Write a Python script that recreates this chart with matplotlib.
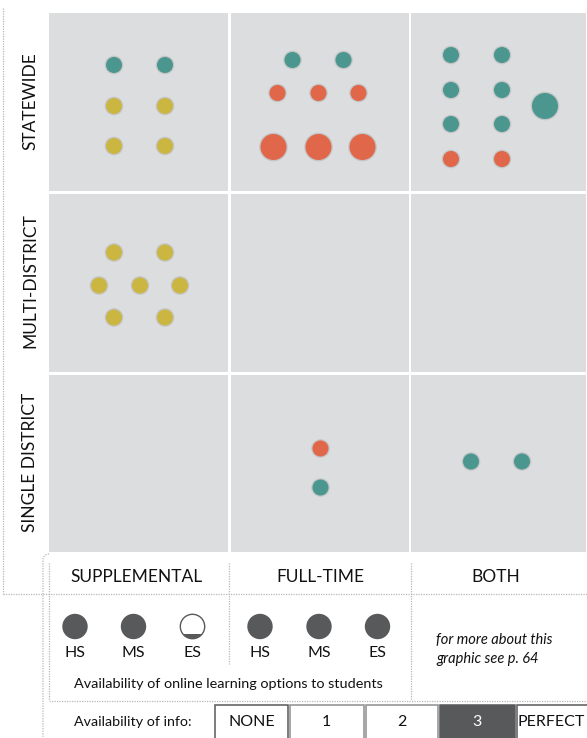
import numpy as np
import matplotlib.pyplot as plt
from matplotlib.patches import Circle, Rectangle

plt.rcParams["font.family"] = ["Lato", "DejaVu Sans"]

# Matrix categories
row_labels = ["STATEWIDE", "MULTI-DISTRICT", "SINGLE DISTRICT"]
col_labels = ["SUPPLEMENTAL", "FULL-TIME", "BOTH"]

# Dots: cell (row, col), offset inside the cell in px, colour key, big or not
dot_row = [0] * 6 + [0] * 8 + [0] * 9 + [1] * 7 + [2] * 2 + [2] * 2
dot_col = [0] * 6 + [1] * 8 + [2] * 9 + [0] * 7 + [1] * 2 + [2] * 2
dot_x = [65, 116, 65, 116, 65, 116,
         62, 113, 47, 88, 128, 43, 88, 132,
         40, 91, 40, 91, 40, 91, 40, 91, 134,
         65, 116, 50, 91, 131, 65, 116,
         90, 90,
         60, 111]
dot_y = [52, 52, 93, 93, 133, 133,
         47, 47, 80, 80, 80, 134, 134, 134,
         42, 42, 77, 77, 111, 111, 146, 146, 93,
         59, 59, 92, 92, 92, 124, 124,
         74, 113,
         87, 87]
dot_kind = ["t", "t", "y", "y", "y", "y",
            "t", "t", "o", "o", "o", "o", "o", "o",
            "t", "t", "t", "t", "t", "t", "o", "o", "t",
            "y", "y", "y", "y", "y", "y", "y",
            "o", "t",
            "t", "t"]
dot_big = [0] * 6 + [0] * 5 + [1] * 3 + [0] * 8 + [1] + [0] * 7 + [0] * 4

# Legend: availability of online learning options (1 = full, else filled share)
legend_groups = ["SUPPLEMENTAL", "FULL-TIME"]
legend_levels = ["HS", "MS", "ES"]
legend_fill = [[1, 1, 0.2], [1, 1, 1]]

info_labels = ["NONE", "1", "2", "3", "PERFECT"]
info_current = "3"

colours = {"t": "#4b978f", "o": "#e0674a", "y": "#ccb642"}
panel_grey = "#dcdddf"
dark = "#58595b"
dotted = "#b8b8b8"
ink = "#111111"

col_x0 = [49, 230.5, 411]
col_x1 = [229, 410, 587]
row_y0 = [13, 193.5, 374.5]
row_y1 = [192.5, 373.5, 553]

fig = plt.figure(figsize=(5.87, 7.38), dpi=100)
ax = fig.add_axes([0, 0, 1, 1])
ax.set_xlim(0, 587)
ax.set_ylim(738, 0)
ax.axis("off")

# grey matrix panels
for r in range(3):
    for c in range(3):
        ax.add_patch(Rectangle((col_x0[c], row_y0[r]),
                               col_x1[c] - col_x0[c] - 1.5,
                               row_y1[r] - row_y0[r] - 1.5,
                               facecolor=panel_grey, edgecolor="none"))

for r, c, x, y, k, big in zip(dot_row, dot_col, dot_x, dot_y, dot_kind, dot_big):
    cx, cy = col_x0[c] + x, row_y0[r] + y
    rad = 13 if big else 8
    ax.add_patch(Circle((cx, cy), rad + 1.3, facecolor="#9a9a9a",
                        edgecolor="none", alpha=0.35))
    ax.add_patch(Circle((cx, cy), rad, facecolor=colours[k], edgecolor="none"))

# row labels
row_centres = [101, 281, 462]
for lab, yc in zip(row_labels, row_centres):
    ax.text(30, yc, lab, rotation=90, ha="center", va="center",
            fontsize=12.5, color=ink)

dot_style = dict(color=dotted, lw=0.9, linestyle=(0, (1, 1)))

# outer dotted frame
ax.plot([3, 3], [8, 594], **dot_style)
ax.plot([3, 587], [594, 594], **dot_style)

# bottom white panel border
t = np.linspace(np.pi / 2, np.pi, 20)
ax.plot(np.r_[49 + 6 * np.cos(t), 43], np.r_[560 - 6 * np.sin(t), 738], **dot_style)
ax.plot([49, 49], [563, 700], **dot_style)
ax.plot([229, 229], [563, 664], **dot_style)
ax.plot([410.5, 410.5], [563, 700], **dot_style)
ax.plot([49, 587], [701, 701], **dot_style)

# column labels
col_centres = [136.5, 320, 496]
for lab, xc in zip(col_labels, col_centres):
    ax.text(xc, 577, lab, ha="center", va="center", fontsize=12.5, color=ink)

# legend circles
leg_x = [[75, 133.5, 192.5], [260, 319, 377.5]]
for g, xs in enumerate(leg_x):
    for lvl, x, f in zip(legend_levels, xs, legend_fill[g]):
        if f >= 1:
            ax.add_patch(Circle((x, 626.5), 12.7, facecolor=dark, edgecolor="none"))
        else:
            ring = Circle((x, 626.5), 12.2, facecolor="white", edgecolor=dark, lw=1.0)
            ax.add_patch(ring)
            fill = Rectangle((x - 13, 626.5 + 12.7 - 25.4 * f), 26, 25.4 * f,
                             facecolor=dark, edgecolor="none")
            ax.add_patch(fill)
            fill.set_clip_path(ring)
        ax.text(x, 653, lvl, ha="center", va="center", fontsize=11.5, color=ink)

ax.text(228.5, 683.5, "Availability of online learning options to students",
        ha="center", va="center", fontsize=10.4, color=ink)
ax.text(436, 640, "for more about this", ha="left", va="center",
        fontsize=10.5, style="italic", color=ink)
ax.text(436, 658.5, "graphic see p. 64", ha="left", va="center",
        fontsize=10.5, style="italic", color=ink)

# availability of info scale
ax.text(74, 721.5, "Availability of info:", ha="left", va="center",
        fontsize=10.3, color=ink)
box_x0 = [215, 290, 366, 439.5, 516.5]
box_x1 = [288, 363.5, 437.5, 515, 590]
for lab, x0, x1 in zip(info_labels, box_x0, box_x1):
    filled = lab == info_current
    edge = dark if lab in ("NONE", "PERFECT") else "#8e8e8e"
    ax.add_patch(Rectangle((x0, 704.5), x1 - x0, 40,
                           facecolor=dark if filled else "white",
                           edgecolor=dark if filled else edge, lw=1.1))
    ax.text((x0 + x1) / 2 if lab != "PERFECT" else 551, 721.5, lab,
            ha="center", va="center", fontsize=11.5,
            color="white" if filled else ink)

fig.savefig("out.png", dpi=100)
